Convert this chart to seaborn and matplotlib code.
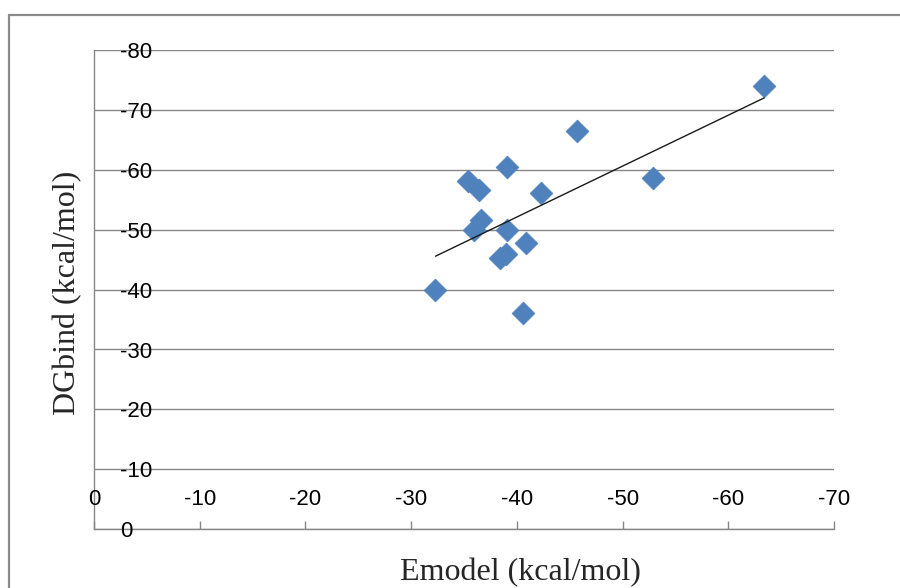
import numpy as np
import pandas as pd
import matplotlib
matplotlib.use("Agg")
import matplotlib.pyplot as plt
from matplotlib.lines import Line2D
import seaborn as sns

# Docking scores: Emodel vs. binding free energy (kcal/mol)
emodel = [-32.3, -35.4, -36.45, -35.9, -36.6, -39.1, -39.1, -38.4,
          -39.0, -40.9, -40.55, -42.3, -45.7, -52.9, -63.4]
dgbind = [-39.9, -58.2, -56.6, -49.9, -51.6, -60.5, -49.9, -45.3,
          -45.9, -47.8, -36.0, -56.2, -66.4, -58.7, -74.0]

x_ticks = [0, -10, -20, -30, -40, -50, -60, -70]
y_ticks = [0, -10, -20, -30, -40, -50, -60, -70, -80]

x_title = "Emodel (kcal/mol)"
y_title = "DGbind (kcal/mol)"

df = pd.DataFrame({"Emodel": emodel, "DGbind": dgbind})

sns.set_style("white")
plt.rcParams["font.family"] = ["Liberation Sans", "DejaVu Sans"]

fig = plt.figure(figsize=(9, 5.88), dpi=100)
ax = fig.add_axes([94 / 900, 1 - 529 / 588, (834 - 94) / 900, (529 - 50) / 588])

grid_color = "#878787"
blue = "#4F81BD"

sns.scatterplot(data=df, x="Emodel", y="DGbind", marker="D", s=135,
                color=blue, edgecolor=blue, linewidth=0.5, ax=ax, zorder=3,
                legend=False)

# Linear trend line across the data range
slope, intercept = np.polyfit(df["Emodel"], df["DGbind"], 1)
xs = np.array([df["Emodel"].max(), df["Emodel"].min()])
ax.plot(xs, slope * xs + intercept, color="#1a1a1a", lw=1.0, zorder=4)

# Both axes run from 0 toward negative values
ax.set_xlim(0, -70)
ax.set_ylim(0, -80)

ax.set_xticks(x_ticks, labels=[])
ax.set_yticks(y_ticks, labels=[])
ax.yaxis.grid(True, color=grid_color, lw=1.0)
ax.xaxis.grid(False)
ax.set_axisbelow(True)

for side in ["top", "right"]:
    ax.spines[side].set_visible(False)
for side in ["left", "bottom"]:
    ax.spines[side].set_color(grid_color)
    ax.spines[side].set_linewidth(1.0)

ax.tick_params(axis="x", direction="in", length=6, width=1.0, color=grid_color,
               bottom=True)
ax.tick_params(axis="y", length=0)

# Tick labels sit inside the plotting area
for v in x_ticks:
    ax.text(v, -5.0, f"{v}", ha="center", va="center", fontsize=16,
            color="black")
for v in y_ticks:
    ax.text(-2.45, v + 0.45, f"{v}", ha="left", va="center", fontsize=16,
            color="black")

ax.set_xlabel("")
ax.set_ylabel("")

serif = ["Liberation Serif", "DejaVu Serif"]
fig.text(520 / 900, 1 - 573 / 588, x_title, ha="center", va="center",
         fontsize=23, family=serif)
fig.text(68 / 900, 1 - 293 / 588, y_title, ha="center", va="center",
         fontsize=23, family=serif, rotation=90)

# Chart-area frame
fig.add_artist(Line2D([9 / 900, 1.0], [1 - 15 / 588, 1 - 15 / 588],
                      transform=fig.transFigure, color="#8a8a8a", lw=1.6))
fig.add_artist(Line2D([9 / 900, 9 / 900], [0.0, 1 - 15 / 588],
                      transform=fig.transFigure, color="#8a8a8a", lw=1.6))

fig.savefig("out.png", dpi=100)
